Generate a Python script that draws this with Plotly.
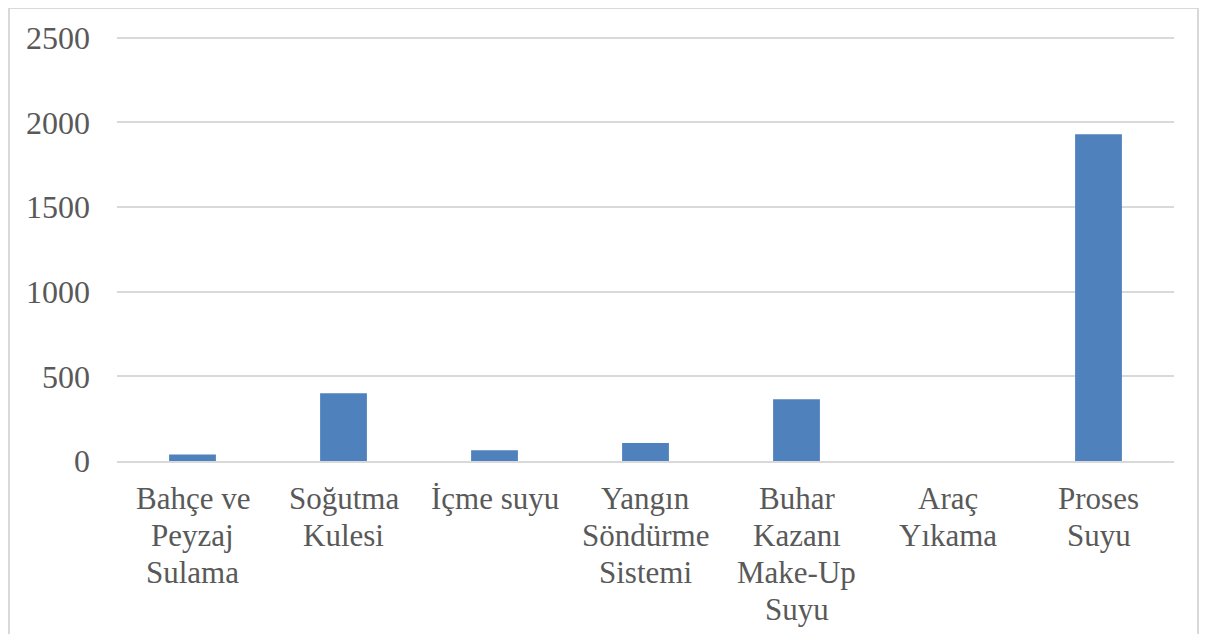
import plotly.graph_objects as go

categories = ["Bahçe ve<br>Peyzaj<br>Sulama", "Soğutma<br>Kulesi", "İçme suyu",
              "Yangın<br>Söndürme<br>Sistemi", "Buhar<br>Kazanı<br>Make-Up<br>Suyu",
              "Araç<br>Yıkama", "Proses<br>Suyu"]
values = [39, 400, 63, 106, 365, 0, 1930]
tick_vals = [0, 500, 1000, 1500, 2000, 2500]
y_max = 2510

# page body has an 8px margin, so the figure is sized to fit inside it
W, H = 1191, 626
L, R, T, B = 109, 25, 28, 173
pw, ph = W - L - R, H - T - B

fig = go.Figure(go.Bar(x=categories, y=values, marker_color="#4F81BD",
                       marker_line_width=0, width=0.31))

fam = "Liberation Serif, Times New Roman, serif"
grey = "#595959"
fig.update_layout(
    width=W, height=H, margin=dict(l=L, r=R, t=T, b=B, autoexpand=False),
    paper_bgcolor="white", plot_bgcolor="white",
    font=dict(family=fam, size=32, color=grey), showlegend=False,
)
fig.update_xaxes(showgrid=False, showline=True, linecolor="#D9D9D9", linewidth=2,
                 ticks="", showticklabels=False)
fig.update_yaxes(range=[0, y_max], tickvals=tick_vals, showgrid=True, gridcolor="#D9D9D9",
                 gridwidth=2, zeroline=False, showline=False, ticks="", ticklabelstandoff=26)

# category labels, one annotation per text line (tighter line spacing like the reference)
line_gap = 37
for cat in categories:
    for j, part in enumerate(cat.split("<br>")):
        fig.add_annotation(x=cat, y=0, xref="x", yref="y", text=part, showarrow=False,
                           xanchor="center", yanchor="middle", yshift=-(37 + line_gap * j),
                           font=dict(family=fam, size=31, color=grey))

# outer chart border
fig.add_shape(type="rect", xref="paper", yref="paper",
              x0=(1 - L) / pw, x1=(W - 1 - L) / pw,
              y0=(H - B - (H + 20)) / ph, y1=(H - B - 0) / ph,
              line=dict(color="#D9D9D9", width=2), fillcolor="rgba(0,0,0,0)", layer="below")

fig.write_html("out.html")
